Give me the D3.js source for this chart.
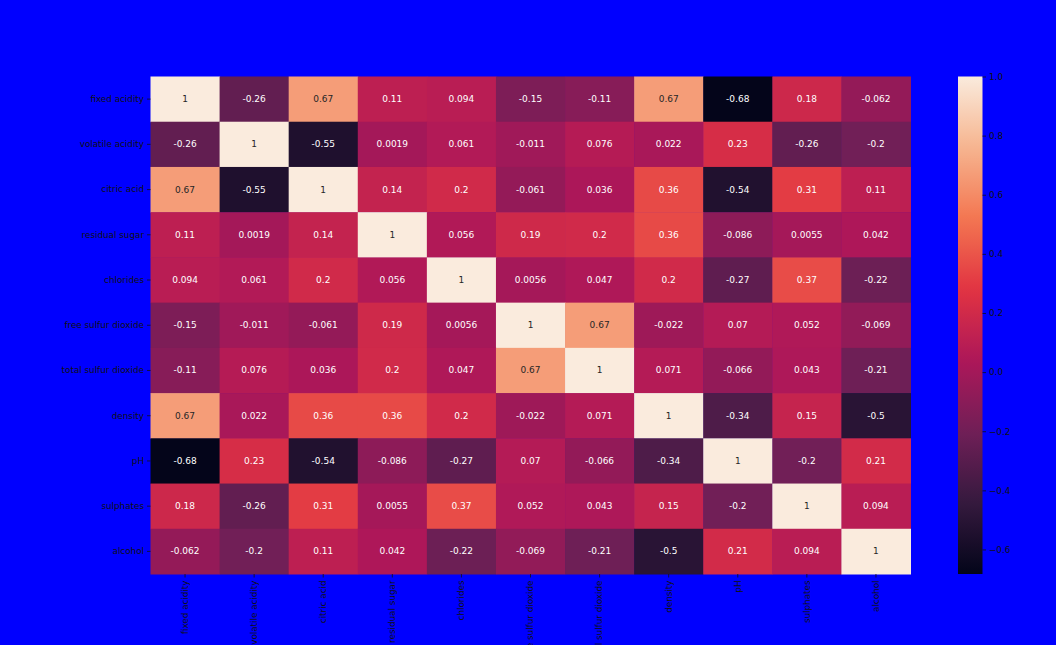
<!DOCTYPE html>
<html>
<head>
<meta charset="utf-8">
<script src="https://cdn.jsdelivr.net/npm/d3@7"></script>
<style>
  html, body { margin: 0; padding: 0; background: #0000ff; }
  svg { display: block; }
  text { font-family: "DejaVu Sans", sans-serif; }
</style>
</head>
<body>
<svg id="chart" width="1056" height="645"></svg>
<script>
const categories = ["fixed acidity", "volatile acidity", "citric acid", "residual sugar", "chlorides",
  "free sulfur dioxide", "total sulfur dioxide", "density", "pH", "sulphates", "alcohol"];

const row_fixed_acidity   = [1, -0.26, 0.67, 0.11, 0.094, -0.15, -0.11, 0.67, -0.68, 0.18, -0.062];
const row_volatile_acidity= [-0.26, 1, -0.55, 0.0019, 0.061, -0.011, 0.076, 0.022, 0.23, -0.26, -0.2];
const row_citric_acid     = [0.67, -0.55, 1, 0.14, 0.2, -0.061, 0.036, 0.36, -0.54, 0.31, 0.11];
const row_residual_sugar  = [0.11, 0.0019, 0.14, 1, 0.056, 0.19, 0.2, 0.36, -0.086, 0.0055, 0.042];
const row_chlorides       = [0.094, 0.061, 0.2, 0.056, 1, 0.0056, 0.047, 0.2, -0.27, 0.37, -0.22];
const row_free_so2        = [-0.15, -0.011, -0.061, 0.19, 0.0056, 1, 0.67, -0.022, 0.07, 0.052, -0.069];
const row_total_so2       = [-0.11, 0.076, 0.036, 0.2, 0.047, 0.67, 1, 0.071, -0.066, 0.043, -0.21];
const row_density         = [0.67, 0.022, 0.36, 0.36, 0.2, -0.022, 0.071, 1, -0.34, 0.15, -0.5];
const row_pH              = [-0.68, 0.23, -0.54, -0.086, -0.27, 0.07, -0.066, -0.34, 1, -0.2, 0.21];
const row_sulphates       = [0.18, -0.26, 0.31, 0.0055, 0.37, 0.052, 0.043, 0.15, -0.2, 1, 0.094];
const row_alcohol         = [-0.062, -0.2, 0.11, 0.042, -0.22, -0.069, -0.21, -0.5, 0.21, 0.094, 1];

const rows = [row_fixed_acidity, row_volatile_acidity, row_citric_acid, row_residual_sugar, row_chlorides,
  row_free_so2, row_total_so2, row_density, row_pH, row_sulphates, row_alcohol];

const colorMin = -0.683;
const colorMax = 1.0;
const colorbarTicks = [-0.6, -0.4, -0.2, 0.0, 0.2, 0.4, 0.6, 0.8, 1.0];

// rocket colormap stops
const rocketStops = ["#03051a", "#35193e", "#701f57", "#ad1759", "#e13342", "#f37651", "#f6b48f", "#faebdd"];

(function () {
const svg = d3.select("#chart");
const W = 1056, H = 645;
svg.append("rect").attr("width", W).attr("height", H).attr("fill", "#0000ff");

const mLeft = 150.5, mRight = 910.5, mTop = 76.5, mBottom = 574;
const x = d3.scaleBand().domain(categories).range([mLeft, mRight]).padding(0);
const y = d3.scaleBand().domain(categories).range([mTop, mBottom]).padding(0);

const interp = d3.piecewise(d3.interpolateRgb, rocketStops);
const color = d3.scaleSequential(interp).domain([colorMin, colorMax]);

const cells = [];
rows.forEach((r, i) => r.forEach((v, j) => cells.push({ row: categories[i], col: categories[j], v })));

const g = svg.append("g");
g.selectAll("rect.cell").data(cells).enter().append("rect")
  .attr("class", "cell")
  .attr("x", d => x(d.col))
  .attr("y", d => y(d.row))
  .attr("width", x.bandwidth() + 0.5)
  .attr("height", y.bandwidth() + 0.5)
  .attr("fill", d => color(d.v));

function lum(c) {
  const rgb = d3.rgb(c);
  const f = u => { u = u / 255; return u <= 0.03928 ? u / 12.92 : Math.pow((u + 0.055) / 1.055, 2.4); };
  return 0.2126 * f(rgb.r) + 0.7152 * f(rgb.g) + 0.0722 * f(rgb.b);
}

g.selectAll("text.annot").data(cells).enter().append("text")
  .attr("class", "annot")
  .attr("x", d => x(d.col) + x.bandwidth() / 2)
  .attr("y", d => y(d.row) + y.bandwidth() / 2)
  .attr("text-anchor", "middle")
  .attr("dominant-baseline", "central")
  .attr("font-size", "9px")
  .attr("fill", d => lum(color(d.v)) > 0.408 ? "#262626" : "#ffffff")
  .text(d => String(d.v));

const textColor = "#111111";

// y axis
const yAxis = d3.axisLeft(y).tickSize(3.5).tickPadding(3);
const yg = svg.append("g").attr("transform", `translate(${mLeft},0)`).call(yAxis);
yg.select(".domain").remove();
yg.selectAll("line").attr("stroke", textColor).attr("stroke-width", 0.8);
yg.selectAll("text").attr("fill", textColor).attr("font-size", "8.8px")
  .attr("font-family", "DejaVu Sans, sans-serif");

// x axis
const xAxis = d3.axisBottom(x).tickSize(3.5).tickPadding(3);
const xg = svg.append("g").attr("transform", `translate(0,${mBottom})`).call(xAxis);
xg.select(".domain").remove();
xg.selectAll("line").attr("stroke", textColor).attr("stroke-width", 0.8);
xg.selectAll("text").attr("fill", textColor).attr("font-size", "8.8px")
  .attr("font-family", "DejaVu Sans, sans-serif")
  .attr("transform", "rotate(-90)")
  .attr("text-anchor", "end")
  .attr("x", -6.5).attr("y", 0).attr("dy", "0.32em");

// colorbar
const cbLeft = 958, cbRight = 982.5;
const cbScale = d3.scaleLinear().domain([colorMin, colorMax]).range([mBottom, mTop]);
const defs = svg.append("defs");
const grad = defs.append("linearGradient").attr("id", "cbgrad")
  .attr("x1", 0).attr("y1", 1).attr("x2", 0).attr("y2", 0);
d3.range(0, 1.0001, 0.02).forEach(t => {
  grad.append("stop").attr("offset", t).attr("stop-color", interp(t));
});
svg.append("rect").attr("x", cbLeft).attr("y", mTop)
  .attr("width", cbRight - cbLeft).attr("height", mBottom - mTop)
  .attr("fill", "url(#cbgrad)");

const cbAxis = d3.axisRight(cbScale).tickValues(colorbarTicks).tickSize(3.5).tickPadding(3)
  .tickFormat(d => d3.format(".1f")(d).replace("-", "\u2212").replace("\u2212", "\u2212"));
const cg = svg.append("g").attr("transform", `translate(${cbRight},0)`).call(cbAxis);
cg.select(".domain").remove();
cg.selectAll("line").attr("stroke", textColor).attr("stroke-width", 0.8);
cg.selectAll("text").attr("fill", textColor).attr("font-size", "8.8px")
  .attr("font-family", "DejaVu Sans, sans-serif");
})();
</script>
</body>
</html>
